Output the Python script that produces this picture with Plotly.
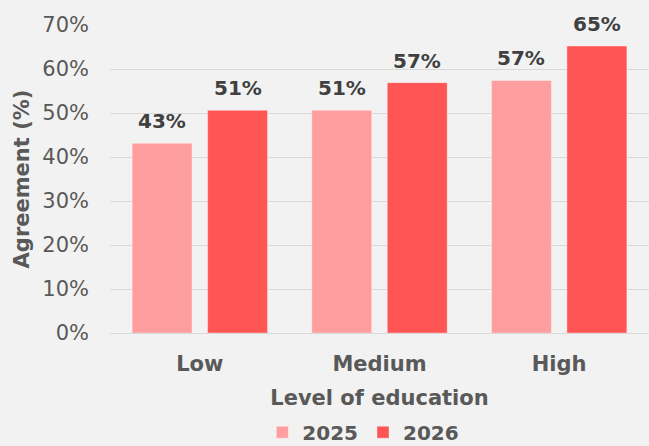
import plotly.graph_objects as go

# Share of respondents agreeing, by level of education
categories = ["Low", "Medium", "High"]
agree_2025 = [0.431, 0.506, 0.574]
agree_2026 = [0.506, 0.569, 0.652]
series_names = ["2025", "2026"]
series_colors = ["#FF9E9E", "#FF5555"]

FONT = "DejaVu Sans"
GREY = "#595959"
DARK = "#404040"

BARGAP = 0.16
BARGROUPGAP = 0.206
GROUP_OFFSET = (1 - BARGAP) / 4  # centre of each bar relative to its category

fig = go.Figure()
for name, values, color in zip(series_names, [agree_2025, agree_2026], series_colors):
    fig.add_trace(go.Bar(
        x=categories,
        y=values,
        name=name,
        marker=dict(color=color, line=dict(color="rgba(255,255,255,0.35)", width=1)),
        hoverinfo="x+y+name",
    ))

# Value labels above each bar
for s, values in enumerate([agree_2025, agree_2026]):
    sign = -1 if s == 0 else 1
    for i, v in enumerate(values):
        fig.add_annotation(
            x=i + sign * GROUP_OFFSET,
            y=v,
            xref="x",
            yref="y",
            text=f"{v:.0%}",
            showarrow=False,
            yanchor="bottom",
            yshift=8,
            font=dict(family=FONT, size=20, color=DARK, weight="bold"),
        )

fig.update_layout(
    width=649,
    height=446,
    margin=dict(l=110, r=0, t=25, b=113, autoexpand=False),
    paper_bgcolor="#F2F2F2",
    plot_bgcolor="#F2F2F2",
    barmode="group",
    bargap=BARGAP,
    bargroupgap=BARGROUPGAP,
    font=dict(family=FONT, color=GREY),
    showlegend=True,
    legend=dict(
        orientation="h",
        x=0.47,
        xanchor="center",
        y=-0.322,
        yanchor="middle",
        font=dict(family=FONT, size=20, color=GREY, weight="bold"),
        itemwidth=30,
    ),
    xaxis=dict(
        automargin=False,
        tickfont=dict(family=FONT, size=21, color=GREY, weight="bold"),
        ticklabelstandoff=16,
        showline=False,
        title=dict(
            text="Level of education",
            font=dict(family=FONT, size=21, color=GREY, weight="bold"),
            standoff=15,
        ),
    ),
    yaxis=dict(
        automargin=False,
        range=[0, 0.7],
        dtick=0.1,
        tickformat=".0%",
        tickfont=dict(family=FONT, size=21, color=GREY),
        ticklabelstandoff=20,
        gridcolor="#D9D9D9",
        gridwidth=1,
        zeroline=True,
        zerolinecolor="#D9D9D9",
        zerolinewidth=1,
        title=dict(
            text="Agreement (%)",
            font=dict(family=FONT, size=21, color=GREY, weight="bold"),
            standoff=6,
        ),
    ),
)

fig.write_html("out.html")
